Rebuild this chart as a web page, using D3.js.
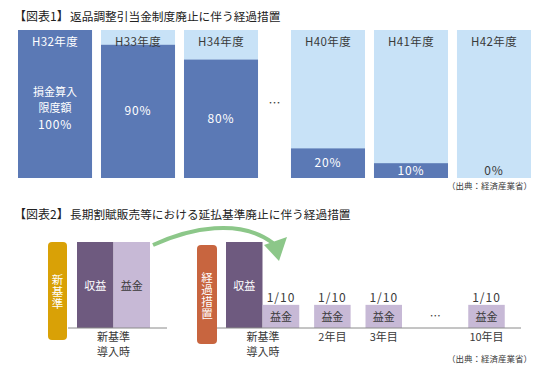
<!DOCTYPE html>
<html>
<head>
<meta charset="utf-8">
<script src="https://cdn.jsdelivr.net/npm/d3@7"></script>
<style>
  body { margin: 0; background: #fff; }
  text { font-family: "Noto Sans CJK JP", "Noto Sans", sans-serif; }
</style>
</head>
<body>
<div id="chart"></div>
<script>
// ---- data ----
var years = ["H32年度", "H33年度", "H34年度", "H40年度", "H41年度", "H42年度"];
var deductRate = [100, 90, 80, 20, 10, 0];
var leftParts = ["収益", "益金"];
var stepLabels = ["新基準導入時", "2年目", "3年目", "…", "10年目"];
var stepShare = [0.1, 0.1, 0.1, null, 0.1];
var stepTexts = ["1/10", "1/10", "1/10", "", "1/10"];

var darkBlue = "#5b79b5", lightBlue = "#c8e2f7";
var darkPurple = "#6e5a7f", lightPurple = "#c7b9d6";
var textCol = "#3a3a3a";

var svg = d3.select("#chart").append("svg")
  .attr("width", 550).attr("height", 370);

// ----------- Chart 1 --------------
svg.append("text").attr("x", 14).attr("y", 21)
  .attr("font-size", 12).attr("fill", "#222").text("【図表1】");
svg.append("text").attr("x", 70).attr("y", 21)
  .attr("font-size", 11.7).attr("fill", "#222").text("返品調整引当金制度廃止に伴う経過措置");

var gap1 = 24; // extra room for the "…" between H34 and H40
var x1 = d3.scaleBand().domain(years).range([18, 531 - gap1]).paddingInner(0.108);
var bx = function (d, i) { return x1(d) + (i >= 3 ? gap1 : 0); };
var y1 = d3.scaleLinear().domain([0, 100]).range([178, 30]);

var g1 = svg.append("g");
g1.selectAll("rect.bg").data(years).join("rect")
  .attr("x", bx).attr("y", y1(100))
  .attr("width", x1.bandwidth()).attr("height", y1(0) - y1(100))
  .attr("fill", lightBlue);
g1.selectAll("rect.val").data(years).join("rect")
  .attr("x", bx).attr("y", function (d, i) { return y1(deductRate[i]); })
  .attr("width", x1.bandwidth())
  .attr("height", function (d, i) { return y1(0) - y1(deductRate[i]); })
  .attr("fill", darkBlue);

// year headers
g1.selectAll("text.yr").data(years).join("text")
  .attr("x", function (d, i) { return bx(d, i) + x1.bandwidth() / 2; })
  .attr("y", 46).attr("text-anchor", "middle").attr("font-size", 11.5)
  .attr("letter-spacing", 0.4)
  .attr("fill", function (d, i) { return deductRate[i] === 100 ? "#fff" : textCol; })
  .text(function (d) { return d; });

// percent labels
g1.selectAll("text.pct").data(years).join("text")
  .attr("x", function (d, i) { return bx(d, i) + x1.bandwidth() / 2; })
  .attr("y", function (d, i) {
    var v = deductRate[i];
    if (v === 100) return 129;
    if (v <= 10) return y1(0) - 3;
    return (y1(v) + y1(0)) / 2 + 4;
  })
  .attr("text-anchor", "middle").attr("font-size", 12).attr("letter-spacing", 0.8)
  .attr("fill", function (d, i) { return deductRate[i] === 0 ? textCol : "#fff"; })
  .text(function (d, i) { return deductRate[i] + "%"; });

g1.append("text").attr("x", bx(years[0], 0) + x1.bandwidth() / 2).attr("y", 96)
  .attr("text-anchor", "middle").attr("font-size", 11).attr("fill", "#fff").text("損金算入");
g1.append("text").attr("x", bx(years[0], 0) + x1.bandwidth() / 2).attr("y", 112)
  .attr("text-anchor", "middle").attr("font-size", 11).attr("fill", "#fff").text("限度額");

g1.append("text")
  .attr("x", (bx(years[2], 2) + x1.bandwidth() + bx(years[3], 3)) / 2).attr("y", 108)
  .attr("text-anchor", "middle").attr("font-size", 12).attr("fill", textCol).text("…");

svg.append("text").attr("x", 532).attr("y", 189).attr("text-anchor", "end")
  .attr("font-size", 8.5).attr("fill", textCol).text("（出典：経済産業省）");

// ----------- Chart 2 --------------
svg.append("text").attr("x", 14).attr("y", 219)
  .attr("font-size", 12).attr("fill", "#222").text("【図表2】");
svg.append("text").attr("x", 70).attr("y", 219)
  .attr("font-size", 11.7).attr("fill", "#222").text("長期割賦販売等における延払基準廃止に伴う経過措置");

var base = 328;
var y2 = d3.scalePow().exponent(0.57).domain([0, 1]).range([base, 242]);
var barW = 36.5;

// left group (新基準)
var xl = d3.scaleBand().domain(leftParts).range([77, 150]);
svg.append("rect").attr("x", 48).attr("y", 242).attr("width", 19).attr("height", 98)
  .attr("rx", 4).attr("fill", "#d9a106");
svg.append("text").attr("x", 57.5).attr("y", 292)
  .attr("writing-mode", "tb").attr("text-anchor", "middle").attr("font-size", 11.5)
  .attr("fill", "#fff").attr("letter-spacing", 0.5).text("新基準");

svg.selectAll("rect.left").data(leftParts).join("rect")
  .attr("x", function (d) { return xl(d); }).attr("y", y2(1))
  .attr("width", xl.bandwidth()).attr("height", base - y2(1))
  .attr("fill", function (d, i) { return i === 0 ? darkPurple : lightPurple; });
svg.selectAll("text.left").data(leftParts).join("text")
  .attr("x", function (d) { return xl(d) + xl.bandwidth() / 2; }).attr("y", 290)
  .attr("text-anchor", "middle").attr("font-size", 11)
  .attr("fill", function (d, i) { return i === 0 ? "#fff" : textCol; })
  .text(function (d) { return d; });
svg.append("line").attr("x1", 68).attr("x2", 167).attr("y1", base).attr("y2", base)
  .attr("stroke", "#8a8a8a").attr("stroke-width", 1);
svg.append("text").attr("x", 113.5).attr("y", 341).attr("text-anchor", "middle")
  .attr("font-size", 11).attr("fill", textCol).text("新基準");
svg.append("text").attr("x", 113.5).attr("y", 356).attr("text-anchor", "middle")
  .attr("font-size", 11).attr("fill", textCol).text("導入時");

// arrow
svg.append("path")
  .attr("d", "M153,245 C190,228 240,218 273,243")
  .attr("fill", "none").attr("stroke", "#8cc789").attr("stroke-width", 4);
svg.append("path")
  .attr("d", "M264,245 L287,237 L279,261 Z").attr("fill", "#8cc789");

// right group (経過措置)
svg.append("rect").attr("x", 197).attr("y", 245).attr("width", 20).attr("height", 99)
  .attr("rx", 4).attr("fill", "#c8653f");
svg.append("text").attr("x", 207).attr("y", 296)
  .attr("writing-mode", "tb").attr("text-anchor", "middle").attr("font-size", 11.5)
  .attr("fill", "#fff").attr("letter-spacing", 0.5).text("経過措置");

svg.append("rect").attr("x", 226).attr("y", y2(1)).attr("width", barW)
  .attr("height", base - y2(1)).attr("fill", darkPurple);
svg.append("text").attr("x", 226 + barW / 2).attr("y", 290).attr("text-anchor", "middle")
  .attr("font-size", 11).attr("fill", "#fff").text("収益");

var xs = d3.scalePoint().domain(stepLabels).range([281, 486.5]);
var steps = stepLabels.map(function (d, i) { return { label: d, share: stepShare[i], txt: stepTexts[i] }; })
  .filter(function (d) { return d.share !== null; });

svg.selectAll("rect.step").data(steps).join("rect")
  .attr("x", function (d) { return xs(d.label) - barW / 2; })
  .attr("y", function (d) { return y2(d.share); })
  .attr("width", barW).attr("height", function (d) { return base - y2(d.share); })
  .attr("fill", lightPurple);
svg.selectAll("text.stepv").data(steps).join("text")
  .attr("x", function (d) { return xs(d.label); })
  .attr("y", function (d) { return y2(d.share) + 16; })
  .attr("text-anchor", "middle").attr("font-size", 11).attr("fill", textCol)
  .text("益金");
svg.selectAll("text.stept").data(steps).join("text")
  .attr("x", function (d) { return xs(d.label); })
  .attr("y", function (d) { return y2(d.share) - 3; })
  .attr("text-anchor", "middle").attr("font-size", 12).attr("letter-spacing", 1)
  .attr("fill", textCol)
  .text(function (d) { return d.txt; });
svg.selectAll("text.stepl").data(steps.slice(1)).join("text")
  .attr("x", function (d) { return xs(d.label); }).attr("y", 341)
  .attr("text-anchor", "middle").attr("font-size", 11).attr("fill", textCol)
  .text(function (d) { return d.label; });
svg.append("text").attr("x", xs("…")).attr("y", 320).attr("text-anchor", "middle")
  .attr("font-size", 11).attr("fill", textCol).text("…");

svg.append("line").attr("x1", 217).attr("x2", 521).attr("y1", base).attr("y2", base)
  .attr("stroke", "#8a8a8a").attr("stroke-width", 1);
svg.append("text").attr("x", 263).attr("y", 341).attr("text-anchor", "middle")
  .attr("font-size", 11).attr("fill", textCol).text("新基準");
svg.append("text").attr("x", 263).attr("y", 356).attr("text-anchor", "middle")
  .attr("font-size", 11).attr("fill", textCol).text("導入時");

svg.append("text").attr("x", 532).attr("y", 362).attr("text-anchor", "end")
  .attr("font-size", 8.5).attr("fill", textCol).text("（出典：経済産業省）");
</script>
</body>
</html>
